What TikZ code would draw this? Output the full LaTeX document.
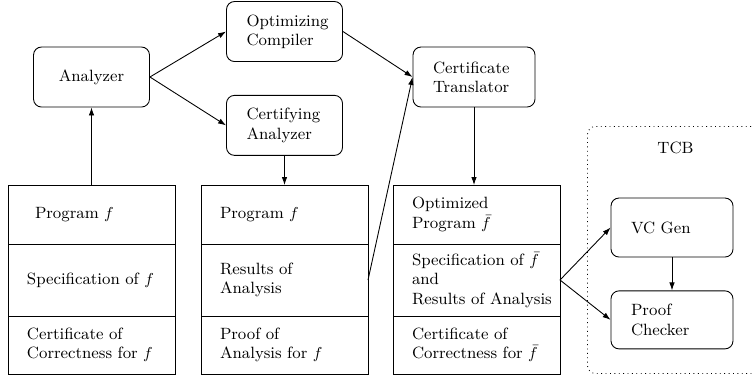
\documentclass[tikz,border=0pt]{standalone}
\usepackage{amsmath,amssymb}
\usepackage{tikz}
\usetikzlibrary{arrows.meta,positioning}

\begin{document}
\begin{tikzpicture}[
    font=\fontsize{9.3}{11}\selectfont,
    line width=0.5pt,
    proc/.style={draw, rounded corners=0.16cm, inner xsep=0.4cm, minimum height=1.2cm, text width=#1, align=left},
    proc/.default=1.52cm,
    cell/.style={draw, outer sep=0pt, inner xsep=0.38cm, text width=2.58cm, minimum height=#1, align=left},
    flow/.style={-{Latex[length=1.6mm, width=1.1mm]}},
    tcbbox/.style={draw, dotted, rounded corners=0.16cm, anchor=north west, inner sep=0pt}
]
\useasboundingbox (0,0) rectangle (15.04,-7.58);
\node[proc, align=center] (ana) at (1.83,-1.54) {Analyzer};
\node[proc] (optc) at (5.69,-0.63) {Optimizing\\Compiler};
\node[proc, below=0.66cm of optc] (cana) {Certifying\\Analyzer};
\node[proc=1.64cm] (ctrans) at (9.48,-1.54) {Certificate\\Translator};
% input program
\node[cell=1.18cm] (lprog) at (1.83,-4.29) {\hspace*{0.16cm}Program $f$};
\node[cell=1.44cm, below=0pt of lprog] (lspec) {Specification of $f$};
\node[cell=1.16cm, below=0pt of lspec] (lcert) {Certificate of\\Correctness for $f$};
% analyzed program
\node[cell=1.18cm, right=0.52cm of lprog] (mprog) {Program $f$};
\node[cell=1.44cm, below=0pt of mprog] (mres) {Results of\\Analysis};
\node[cell=1.16cm, below=0pt of mres] (mproof) {Proof of\\Analysis for $f$};
% optimized program
\node[cell=1.18cm, right=0.5cm of mprog] (ropt) {Optimized\\Program $\bar f$};
\node[cell=1.44cm, below=0pt of ropt] (rspec) {Specification of $\bar f$\\and\\\mbox{Results of Analysis}};
\node[cell=1.16cm, below=0pt of rspec] (rcert) {Certificate of\\Correctness for $\bar f$};
% trusted base
\node[tcbbox, minimum width=3.52cm, minimum height=4.94cm] (tcb) at (11.74,-2.52) {};
\node (tcblab) at ([yshift=-0.44cm]tcb.north) {TCB};
\node[proc=1.64cm, minimum height=1.18cm] (vcg) at (13.44,-4.55) {VC Gen};
\node[proc=1.64cm, minimum height=1.16cm, below=0.66cm of vcg] (pchk) {Proof\\Checker};
\draw[flow] (lprog) -- (ana);
\draw[flow] (ana.east) -- (optc.west);
\draw[flow] (ana.east) -- (cana.west);
\draw[flow] (cana) -- (mprog);
\draw[flow] (optc.east) -- (ctrans.west);
\draw[flow] (mres.east) -- (ctrans.west);
\draw[flow] (ctrans.south) -- (ctrans.south |- ropt.north);
\draw[flow] (rspec.east) -- (vcg.west);
\draw[flow] (rspec.east) -- (pchk.west);
\draw[flow] (vcg) -- (pchk);
\end{tikzpicture}
\end{document}
